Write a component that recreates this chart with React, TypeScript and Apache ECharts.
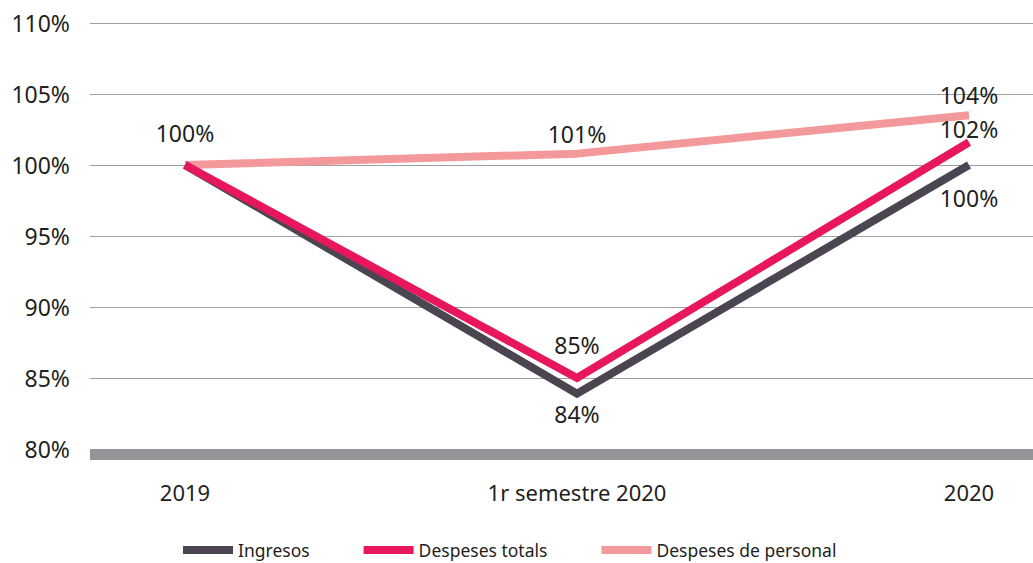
import React, { useEffect, useRef } from "react";
import * as echarts from "echarts";

const categories = ["2019", "1r semestre 2020", "2020"];
const ingresos = [100, 83.9, 100];
const despesesTotals = [100, 85, 101.6];
const despesesPersonal = [100, 100.8, 103.5];
const yTicks = [80, 85, 90, 95, 100, 105, 110];

const FONT = "Noto Sans";
const TXT = "#231f20";

export default function App() {
  const ref = useRef<HTMLDivElement>(null);
  useEffect(() => {
    if (!ref.current) return;
    const chart = echarts.init(ref.current, undefined, { renderer: "svg" });
    const pct = (p: any) => Math.round(p.value[1]) + "%";
    const mk = (vals: number[], labels: any[]) =>
      vals.map((v, i) => ({ value: [i, v], label: labels[i] }));
    const lbl = (show: boolean, position: string, distance: number) => ({
      show,
      position,
      distance,
      formatter: pct,
      fontFamily: FONT,
      fontSize: 23,
      color: TXT,
    });
    const common = {
      type: "line",
      symbol: "circle",
      symbolSize: 1,
      showSymbol: true,
      itemStyle: { color: "rgba(0,0,0,0)" },
      label: { show: true, formatter: pct, fontFamily: FONT, fontSize: 23, color: TXT },
    };
    chart.setOption({
      animation: false,
      grid: { left: 90, right: 0, top: 23, bottom: 114 },
      legend: {
        left: 178,
        top: 535,
        icon: "rect",
        itemWidth: 50,
        itemHeight: 8,
        itemGap: 54,
        textStyle: { fontFamily: FONT, fontSize: 17.5, color: TXT, lineHeight: 20 },
        data: [
          { name: "Ingresos", itemStyle: { color: "#4a4550" } },
          { name: "Despeses totals", itemStyle: { color: "#e8175d" } },
          { name: "Despeses de personal", itemStyle: { color: "#f4999b" } },
        ],
      },
      xAxis: {
        type: "value",
        min: -95 / 392,
        max: 2 + 64 / 392,
        offset: 5,
        splitLine: { show: false },
        axisTick: { show: false },
        axisLine: { show: true, lineStyle: { color: "#939598", width: 11, cap: "butt" } },
        axisLabel: {
          customValues: [0, 1, 2],
          formatter: (v: number) => categories[Math.round(v)],
          fontFamily: FONT,
          fontSize: 22,
          color: TXT,
          margin: 27,
        },
      },
      yAxis: {
        type: "value",
        min: yTicks[0],
        max: yTicks[yTicks.length - 1],
        interval: 5,
        axisLine: { show: false },
        axisTick: { show: false },
        splitLine: { show: true, lineStyle: { color: "#a0a0a0", width: 1 } },
        axisLabel: {
          formatter: (v: number) => v + "%",
          fontFamily: FONT,
          fontSize: 23,
          color: TXT,
          margin: 20,
        },
      },
      series: [
        {
          ...common,
          name: "Ingresos",
          color: "#4a4550",
          lineStyle: { width: 8, color: "#4a4550", join: "miter" },
          data: mk(ingresos, [
            lbl(false, "bottom", 8),
            lbl(true, "bottom", 8),
            lbl(true, "bottom", 21),
          ]),
        },
        {
          ...common,
          name: "Despeses totals",
          color: "#e8175d",
          lineStyle: { width: 8, color: "#e8175d", join: "miter" },
          data: mk(despesesTotals, [
            lbl(false, "top", 8),
            lbl(true, "top", 21),
            lbl(true, "top", 1),
          ]),
        },
        {
          ...common,
          name: "Despeses de personal",
          color: "#f4999b",
          lineStyle: { width: 8, color: "#f4999b" },
          z: 1,
          data: mk(despesesPersonal, [
            lbl(true, "top", 20),
            lbl(true, "top", 8),
            lbl(true, "top", 8),
          ]),
        },
      ],
    });
    return () => chart.dispose();
  }, []);
  return (
    <div
      ref={ref}
      style={{ position: "fixed", left: 0, top: 0, width: 1033, height: 563, background: "#fff" }}
    />
  );
}
